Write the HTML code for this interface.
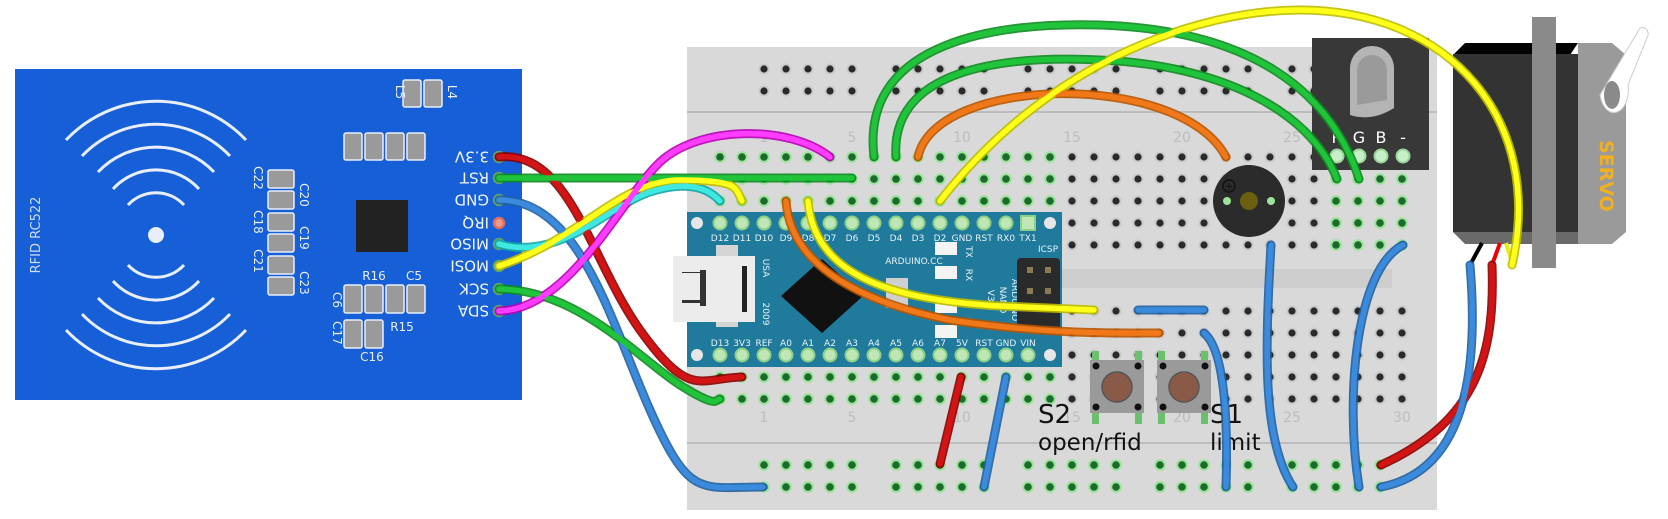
<!DOCTYPE html>
<html><head><meta charset="utf-8"><style>
html,body{margin:0;padding:0;background:#fff;width:1668px;height:519px;overflow:hidden}
svg{display:block}
text{font-family:"DejaVu Sans","Liberation Sans",sans-serif}
</style></head><body>
<svg width="1668" height="519" viewBox="0 0 1668 519" xmlns="http://www.w3.org/2000/svg">
<defs>
<pattern id="h" x="709" y="14" width="22" height="22" patternUnits="userSpaceOnUse">
<circle cx="11" cy="11" r="5.5" fill="#c9c9c9"/><circle cx="11" cy="11" r="3.6" fill="#2a2a2a"/>
</pattern>
<pattern id="hg" x="709" y="14" width="22" height="22" patternUnits="userSpaceOnUse">
<circle cx="11" cy="11" r="5.8" fill="#9be39b"/><circle cx="11" cy="11" r="3.8" fill="#1d6b2a"/>
</pattern>
</defs>

<!-- RFID board -->
<rect x="15" y="69" width="507" height="331" fill="#165fd6"/>
<g fill="none" stroke="#e8eefc" stroke-width="3">
<circle cx="156" cy="235" r="8" fill="#e8eefc" stroke="none"/>
<path d="M128,205 A38,38 0 0 1 184,205"/><path d="M128,265 A38,38 0 0 0 184,265"/>
<path d="M113,189 A58,58 0 0 1 199,189"/><path d="M113,281 A58,58 0 0 0 199,281"/>
<path d="M98,172 A80,80 0 0 1 214,172"/><path d="M98,298 A80,80 0 0 0 214,298"/>
<path d="M82,156 A102,102 0 0 1 230,156"/><path d="M82,314 A102,102 0 0 0 230,314"/>
<path d="M66,140 A124,124 0 0 1 246,140"/><path d="M66,330 A124,124 0 0 0 246,330"/>
</g>
<text transform="translate(40,235) rotate(-90)" text-anchor="middle" font-size="13" fill="#cfdcf7">RFID RC522</text>
<g fill="#9a9a9a" stroke="#e8eefc" stroke-width="1.5">
<rect x="403" y="80" width="18" height="27" rx="2"/><rect x="424" y="80" width="18" height="27" rx="2"/>
<rect x="344" y="133" width="18" height="27" rx="2"/><rect x="365" y="133" width="18" height="27" rx="2"/><rect x="386" y="133" width="18" height="27" rx="2"/><rect x="407" y="133" width="18" height="27" rx="2"/>
<rect x="268" y="170" width="26" height="18" rx="2"/><rect x="268" y="191" width="26" height="18" rx="2"/><rect x="268" y="213" width="26" height="18" rx="2"/><rect x="268" y="234" width="26" height="18" rx="2"/><rect x="268" y="256" width="26" height="18" rx="2"/><rect x="268" y="277" width="26" height="18" rx="2"/>
<rect x="344" y="285" width="18" height="28" rx="2"/><rect x="365" y="285" width="18" height="28" rx="2"/><rect x="386" y="285" width="18" height="28" rx="2"/><rect x="407" y="285" width="18" height="28" rx="2"/>
<rect x="344" y="320" width="18" height="28" rx="2"/><rect x="365" y="320" width="18" height="28" rx="2"/>
</g>
<rect x="356" y="200" width="52" height="52" fill="#222"/>
<g fill="#e8eefc" font-size="12">
<text transform="translate(396,92) rotate(90)" text-anchor="middle">L5</text>
<text transform="translate(448,92) rotate(90)" text-anchor="middle">L4</text>
<text transform="translate(254,178) rotate(90)" text-anchor="middle">C22</text>
<text transform="translate(300,195) rotate(90)" text-anchor="middle">C20</text>
<text transform="translate(254,222) rotate(90)" text-anchor="middle">C18</text>
<text transform="translate(300,238) rotate(90)" text-anchor="middle">C19</text>
<text transform="translate(254,261) rotate(90)" text-anchor="middle">C21</text>
<text transform="translate(300,283) rotate(90)" text-anchor="middle">C23</text>
<text x="374" y="280" text-anchor="middle">R16</text><text x="414" y="280" text-anchor="middle">C5</text>
<text transform="translate(333,300) rotate(90)" text-anchor="middle">C6</text>
<text transform="translate(333,333) rotate(90)" text-anchor="middle">C17</text>
<text x="402" y="331" text-anchor="middle">R15</text><text x="372" y="361" text-anchor="middle">C16</text>
</g>
<g fill="#f2f5fc" font-size="15">
<text transform="translate(489,157) rotate(180)" dy="0.36em">3.3V</text>
<text transform="translate(489,178) rotate(180)" dy="0.36em">RST</text>
<text transform="translate(489,200) rotate(180)" dy="0.36em">GND</text>
<text transform="translate(489,223) rotate(180)" dy="0.36em">IRQ</text>
<text transform="translate(489,244) rotate(180)" dy="0.36em">MISO</text>
<text transform="translate(489,266) rotate(180)" dy="0.36em">MOSI</text>
<text transform="translate(489,289) rotate(180)" dy="0.36em">SCK</text>
<text transform="translate(489,311) rotate(180)" dy="0.36em">SDA</text>
</g>
<g stroke="#5fa36a" stroke-width="2.5" fill="#7fc38a">
<circle cx="499" cy="157" r="5"/><circle cx="499" cy="178" r="5"/><circle cx="499" cy="200" r="5"/>
<circle cx="499" cy="223" r="5" fill="#f29a8a" stroke="#e07060"/>
<circle cx="499" cy="244" r="5"/><circle cx="499" cy="266" r="5"/><circle cx="499" cy="289" r="5"/><circle cx="499" cy="311" r="5"/>
</g>

<!-- Breadboard -->
<rect x="687" y="47" width="750" height="463" fill="#d9d9d9"/>
<line x1="687" y1="112" x2="1437" y2="112" stroke="#bdbdbd" stroke-width="2"/>
<line x1="687" y1="443" x2="1437" y2="443" stroke="#bdbdbd" stroke-width="2"/>
<rect x="700" y="269" width="692" height="19" fill="#cdcdcd"/>
<g fill="url(#h)">
<rect x="753" y="57" width="110" height="44"/><rect x="885" y="57" width="110" height="44"/><rect x="1017" y="57" width="110" height="44"/><rect x="1149" y="57" width="110" height="44"/><rect x="1281" y="57" width="110" height="44"/>
<rect x="709" y="146" width="704" height="110"/>
<rect x="709" y="300" width="704" height="110"/>
</g>
<g fill="url(#hg)">
<rect x="709" y="146" width="352" height="66"/>
<rect x="709" y="366" width="352" height="44"/>
<rect x="753" y="454" width="110" height="44"/><rect x="885" y="454" width="110" height="44"/><rect x="1017" y="454" width="110" height="44"/><rect x="1149" y="454" width="110" height="44"/><rect x="1281" y="454" width="110" height="44"/>
<rect x="1325" y="168" width="88" height="88"/>
</g>
<g fill="#bdbdbd" font-size="14" text-anchor="middle">
<text x="764" y="142">1</text><text x="852" y="142">5</text><text x="962" y="142">10</text><text x="1072" y="142">15</text><text x="1182" y="142">20</text><text x="1292" y="142">25</text>
<text x="764" y="422">1</text><text x="852" y="422">5</text><text x="962" y="422">10</text><text x="1072" y="422">15</text><text x="1182" y="422">20</text><text x="1292" y="422">25</text><text x="1402" y="422">30</text>
</g>

<!-- Arduino Nano -->
<rect x="687" y="212" width="375" height="155" fill="#1f7a9c"/>
<circle cx="697" cy="223" r="6" fill="#e6e6e6"/><circle cx="697" cy="355" r="6" fill="#e6e6e6"/>
<circle cx="1050" cy="223" r="6" fill="#e6e6e6"/><circle cx="1050" cy="355" r="6" fill="#e6e6e6"/>
<g fill="#bfe6b5" stroke="#8ccf86" stroke-width="2">
<circle cx="720" cy="223" r="6.5"/><circle cx="742" cy="223" r="6.5"/><circle cx="764" cy="223" r="6.5"/><circle cx="786" cy="223" r="6.5"/><circle cx="808" cy="223" r="6.5"/><circle cx="830" cy="223" r="6.5"/><circle cx="852" cy="223" r="6.5"/><circle cx="874" cy="223" r="6.5"/><circle cx="896" cy="223" r="6.5"/><circle cx="918" cy="223" r="6.5"/><circle cx="940" cy="223" r="6.5"/><circle cx="962" cy="223" r="6.5"/><circle cx="984" cy="223" r="6.5"/><circle cx="1006" cy="223" r="6.5"/><rect x="1021" y="216" width="14" height="14"/>
<circle cx="720" cy="355" r="6.5"/><circle cx="742" cy="355" r="6.5"/><circle cx="764" cy="355" r="6.5"/><circle cx="786" cy="355" r="6.5"/><circle cx="808" cy="355" r="6.5"/><circle cx="830" cy="355" r="6.5"/><circle cx="852" cy="355" r="6.5"/><circle cx="874" cy="355" r="6.5"/><circle cx="896" cy="355" r="6.5"/><circle cx="918" cy="355" r="6.5"/><circle cx="940" cy="355" r="6.5"/><circle cx="962" cy="355" r="6.5"/><circle cx="984" cy="355" r="6.5"/><circle cx="1006" cy="355" r="6.5"/><circle cx="1028" cy="355" r="6.5"/>
</g>
<g fill="#e8f2f6" font-size="9" font-family="Liberation Mono,monospace" text-anchor="middle">
<text x="720" y="241">D12</text><text x="742" y="241">D11</text><text x="764" y="241">D10</text><text x="786" y="241">D9</text><text x="808" y="241">D8</text><text x="830" y="241">D7</text><text x="852" y="241">D6</text><text x="874" y="241">D5</text><text x="896" y="241">D4</text><text x="918" y="241">D3</text><text x="940" y="241">D2</text><text x="962" y="241">GND</text><text x="984" y="241">RST</text><text x="1006" y="241">RX0</text><text x="1028" y="241">TX1</text>
<text x="720" y="346">D13</text><text x="742" y="346">3V3</text><text x="764" y="346">REF</text><text x="786" y="346">A0</text><text x="808" y="346">A1</text><text x="830" y="346">A2</text><text x="852" y="346">A3</text><text x="874" y="346">A4</text><text x="896" y="346">A5</text><text x="918" y="346">A6</text><text x="940" y="346">A7</text><text x="962" y="346">5V</text><text x="984" y="346">RST</text><text x="1006" y="346">GND</text><text x="1028" y="346">VIN</text>
<text x="914" y="264">ARDUINO.CC</text><text x="1048" y="252">ICSP</text>
<text transform="translate(1012,300) rotate(90)">ARDUINO</text>
<text transform="translate(1000,300) rotate(90)">NANO</text>
<text transform="translate(988,300) rotate(90)">V3.0</text>
<text transform="translate(763,268) rotate(90)">USA</text>
<text transform="translate(763,314) rotate(90)">2009</text>
<text transform="translate(966,252) rotate(90)">TX</text><text transform="translate(966,275) rotate(90)">RX</text>
</g>
<rect x="1017" y="258" width="43" height="72" rx="4" fill="#2a2a2a"/>
<g fill="#8a7a55"><rect x="1027" y="267" width="6" height="6"/><rect x="1045" y="267" width="6" height="6"/><rect x="1027" y="288" width="6" height="6"/><rect x="1045" y="288" width="6" height="6"/></g>
<g fill="#f4f4f4"><rect x="935" y="242" width="22" height="13"/><rect x="935" y="266" width="22" height="13"/><rect x="935" y="300" width="22" height="13"/><rect x="935" y="325" width="22" height="13"/></g>
<rect x="886" y="278" width="22" height="30" fill="#cfcfcf"/>
<rect x="716" y="245" width="22" height="82" fill="#d5d5d5"/>
<rect x="673" y="256" width="82" height="66" fill="#ececec"/>
<rect x="742" y="266" width="5" height="46" fill="#222"/>
<path d="M682,272 h18 v-2 h6 v36 h-6 v-3 h-18 v-3 h18 v-27 h-18z" fill="#333"/>
<polygon points="822,259 863,296 822,333 781,296" fill="#111"/>

<!-- buzzer -->
<circle cx="1249" cy="201" r="36" fill="#2b2b2b"/>
<circle cx="1249" cy="201" r="9" fill="#6b6010"/>
<circle cx="1227" cy="201" r="4" fill="#9be39b"/><circle cx="1271" cy="201" r="4" fill="#9be39b"/>
<circle cx="1229" cy="186" r="6" fill="none" stroke="#111" stroke-width="1.5"/>
<text x="1229" y="190" font-size="11" text-anchor="middle" fill="#111">+</text>

<!-- buttons -->
<g fill="#6cbf6c">
<rect x="1092" y="351" width="7" height="10"/><rect x="1135" y="351" width="7" height="10"/><rect x="1158" y="351" width="7" height="10"/><rect x="1201" y="351" width="7" height="10"/>
<rect x="1092" y="412" width="7" height="12"/><rect x="1135" y="412" width="7" height="12"/><rect x="1158" y="412" width="7" height="12"/><rect x="1201" y="412" width="7" height="12"/>
</g>
<rect x="1090" y="360" width="54" height="53" fill="#9a9a9a"/><rect x="1157" y="360" width="54" height="53" fill="#9a9a9a"/>
<circle cx="1117" cy="387" r="15" fill="#8a5a48" stroke="#555" stroke-width="1.5"/><circle cx="1184" cy="387" r="15" fill="#8a5a48" stroke="#555" stroke-width="1.5"/>
<g fill="#111"><circle cx="1096" cy="366" r="3.5"/><circle cx="1138" cy="366" r="3.5"/><circle cx="1096" cy="407" r="3.5"/><circle cx="1138" cy="407" r="3.5"/><circle cx="1163" cy="366" r="3.5"/><circle cx="1205" cy="366" r="3.5"/><circle cx="1163" cy="407" r="3.5"/><circle cx="1205" cy="407" r="3.5"/></g>
<g fill="#111" font-family="Liberation Sans,sans-serif">
<text x="1038" y="423" font-size="26">S2</text><text x="1038" y="450" font-size="23">open/rfid</text>
<text x="1210" y="423" font-size="26">S1</text><text x="1210" y="450" font-size="23">limit</text>
</g>

<!-- RGB LED module -->
<rect x="1312" y="38" width="117" height="132" fill="#383838"/>
<path d="M1350,115 L1350,68 A22,22 0 0 1 1394,68 L1394,108 Q1372,122 1350,115z" fill="#b4b4b4"/>
<path d="M1357,105 L1357,70 A15,15 0 0 1 1387,70 L1387,100z" fill="#9a9a9a"/>
<g fill="#fff" font-size="16" text-anchor="middle"><text x="1337" y="143">R</text><text x="1359" y="143">G</text><text x="1381" y="143">B</text><text x="1403" y="143">-</text></g>
<g fill="#c8f0c8" stroke="#9bd79b" stroke-width="2"><circle cx="1337" cy="156" r="6.5"/><circle cx="1359" cy="156" r="6.5"/><circle cx="1381" cy="156" r="6.5"/><circle cx="1403" cy="156" r="6.5"/></g>

<!-- Servo -->
<rect x="1532" y="17" width="24" height="251" fill="#8a8a8a"/>
<path d="M1453,55 L1465,43 L1532,43 L1532,55z M1556,55 L1556,43 L1578,43 L1570,55z" fill="#000"/>
<rect x="1453" y="54" width="79" height="178" fill="#333"/>
<rect x="1556" y="54" width="22" height="178" fill="#333"/>
<path d="M1453,232 L1532,232 L1532,244 L1465,244z M1556,232 L1578,232 L1590,244 L1556,244z" fill="#6a6a6a"/>
<path d="M1578,43 L1612,43 L1626,55 L1626,232 L1612,244 L1578,244z" fill="#9a9a9a"/>
<path d="M1600,95 A14,22 0 1 0 1628,85 L1648,35 A6,6 0 0 0 1640,28z" fill="#fff" stroke="#ccc"/>
<ellipse cx="1612" cy="95" rx="8" ry="14" fill="#8a8a8a"/>
<text transform="translate(1600,140) rotate(90)" font-size="19" font-weight="bold" fill="#f0b020">SERVO</text>
<line x1="1482" y1="243" x2="1470" y2="265" stroke="#000" stroke-width="4"/>
<line x1="1500" y1="243" x2="1492" y2="265" stroke="#e00" stroke-width="4"/>
<line x1="1506" y1="243" x2="1512" y2="262" stroke="#ee0" stroke-width="4"/>

<!-- Wires -->
<g fill="none" stroke-linecap="round">
<g stroke-width="9" stroke-opacity="0.9">
<path stroke="#8a0000" d="M499,157 C570,150 590,260 640,330 S700,378 742,377"/>
<path stroke="#0e8a20" d="M499,178 L852,178"/>
<path stroke="#22609e" d="M499,200 C580,200 610,320 650,410 S700,487 763,487"/>
<path stroke="#11a7a7" d="M499,244 C560,262 610,205 650,192 S710,190 720,201"/>
<path stroke="#bdbd00" d="M499,266 C580,240 620,180 680,180 S735,188 742,201"/>
<path stroke="#0e8a20" d="M499,289 C580,290 640,360 680,385 S715,399 720,399"/>
<path stroke="#b800b8" d="M499,311 C570,310 620,200 660,162 C700,125 790,125 830,157"/>
<path stroke="#0e8a20" d="M874,157 C860,40 1000,22 1100,25 C1250,30 1330,90 1359,179"/>
<path stroke="#0e8a20" d="M896,157 C890,70 1000,55 1100,60 C1220,65 1310,110 1337,179"/>
<path stroke="#b85500" d="M918,157 C935,75 1180,70 1226,157"/>
<path stroke="#b85500" d="M786,201 C790,260 850,300 950,320 C1050,335 1120,333 1159,333"/>
<path stroke="#bdbd00" d="M808,201 C815,280 900,300 1000,306 L1094,310"/>
<path stroke="#bdbd00" d="M940,201 C1050,60 1200,10 1300,10 C1450,10 1545,120 1512,265"/>
<path stroke="#22609e" d="M1138,310 L1204,310"/>
<path stroke="#22609e" d="M1204,333 C1225,350 1228,420 1226,487"/>
<path stroke="#22609e" d="M1271,245 C1265,350 1262,440 1293,487"/>
<path stroke="#22609e" d="M1403,245 C1355,270 1345,400 1359,487"/>
<path stroke="#8a0000" d="M961,377 L940,464"/>
<path stroke="#22609e" d="M1006,377 L984,487"/>
<path stroke="#8a0000" d="M1492,265 C1495,350 1480,420 1381,465"/>
<path stroke="#22609e" d="M1470,265 C1478,360 1470,470 1381,487"/>
</g>
<g stroke-width="5.5">
<path stroke="#d41414" d="M499,157 C570,150 590,260 640,330 S700,378 742,377"/>
<path stroke="#1fc43a" d="M499,178 L852,178"/>
<path stroke="#3a8ade" d="M499,200 C580,200 610,320 650,410 S700,487 763,487"/>
<path stroke="#3fe8e0" d="M499,244 C560,262 610,205 650,192 S710,190 720,201"/>
<path stroke="#ffff1a" d="M499,266 C580,240 620,180 680,180 S735,188 742,201"/>
<path stroke="#1fc43a" d="M499,289 C580,290 640,360 680,385 S715,399 720,399"/>
<path stroke="#ff3cff" d="M499,311 C570,310 620,200 660,162 C700,125 790,125 830,157"/>
<path stroke="#1fc43a" d="M874,157 C860,40 1000,22 1100,25 C1250,30 1330,90 1359,179"/>
<path stroke="#1fc43a" d="M896,157 C890,70 1000,55 1100,60 C1220,65 1310,110 1337,179"/>
<path stroke="#f07818" d="M918,157 C935,75 1180,70 1226,157"/>
<path stroke="#f07818" d="M786,201 C790,260 850,300 950,320 C1050,335 1120,333 1159,333"/>
<path stroke="#ffff1a" d="M808,201 C815,280 900,300 1000,306 L1094,310"/>
<path stroke="#ffff1a" d="M940,201 C1050,60 1200,10 1300,10 C1450,10 1545,120 1512,265"/>
<path stroke="#3a8ade" d="M1138,310 L1204,310"/>
<path stroke="#3a8ade" d="M1204,333 C1225,350 1228,420 1226,487"/>
<path stroke="#3a8ade" d="M1271,245 C1265,350 1262,440 1293,487"/>
<path stroke="#3a8ade" d="M1403,245 C1355,270 1345,400 1359,487"/>
<path stroke="#d41414" d="M961,377 L940,464"/>
<path stroke="#3a8ade" d="M1006,377 L984,487"/>
<path stroke="#d41414" d="M1492,265 C1495,350 1480,420 1381,465"/>
<path stroke="#3a8ade" d="M1470,265 C1478,360 1470,470 1381,487"/>
</g>
</g>
</svg>
</body></html>
